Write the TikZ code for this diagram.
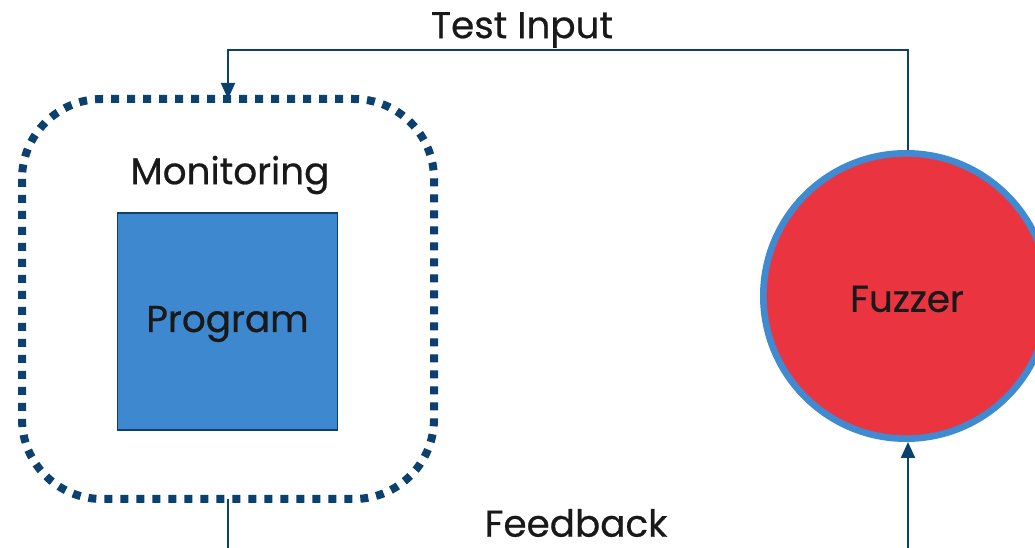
\documentclass[tikz,border=0pt]{standalone}
\usepackage{fontspec}
\setmainfont{Poppins}[FakeBold = 0.6]
\usetikzlibrary{arrows.meta}

\definecolor{navy}{HTML}{0B406F}
\definecolor{progblue}{HTML}{3D88CE}
\definecolor{ringblue}{HTML}{3F8AD0}
\definecolor{fuzzred}{HTML}{EA3541}

\tikzset{
	label text/.style = {font = \fontsize{28}{33}\selectfont, text = black!90},
	flow/.style = {navy, line width = 1.6pt},
	flow arrow/.style = {flow, -{Triangle[length = 12pt, width = 10.5pt]}}
}

\begin{document}
\begin{tikzpicture}[x = 0.75pt, y = -0.75pt]

	\useasboundingbox (0, 0) rectangle (1035, 548);
	\clip (0, 0) rectangle (1035, 548);

	% Monitoring frame and program
	
	\draw [navy, line width = 6pt, dash pattern = on 6pt off 6pt, rounded corners = 60pt]
		(22, 99) rectangle (434, 499);
	\coordinate (frametop) at (228, 99);
	\coordinate (framebot) at (228, 499);
	
	\node [label text] (monitoring) at (230, 175) {Monitoring};
	\node [draw = navy, fill = progblue, line width = 1.2pt, minimum width = 165pt,
		minimum height = 163pt] (program) at (227.5, 321.5) {};
	\node [label text] (programtext) at (227.5, 324) {Program};
	
	% Fuzzer
	
	\node [circle, draw = ringblue, fill = fuzzred, line width = 5pt,
		minimum size = 214pt] (fuzzer) at (906, 296) {};
	\node [label text] (fuzzertext) at (907, 299) {Fuzzer};
	
	% Connections
	
	\coordinate (topright) at (908, 50);
	\coordinate (topleft) at (228, 50);
	\coordinate (bottomleft) at (228, 560);
	\coordinate (bottomright) at (908, 560);
	
	\draw [flow arrow] (fuzzer.north -| topright) -- (topright) -- (topleft) -- (frametop);
	\draw [flow] (framebot) -- (bottomleft);
	\draw [flow arrow] (bottomright) -- (fuzzer.south -| bottomright);
	
	% Labels
	
	\node [label text] (testinput) at (522, 30) {Test Input};
	\node [label text] (feedback) at (576, 523) {Feedback};

\end{tikzpicture}
\end{document}
